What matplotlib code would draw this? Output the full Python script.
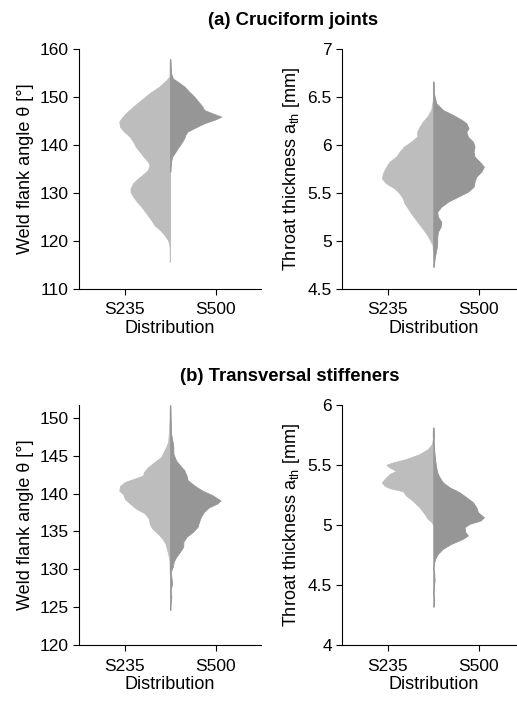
import matplotlib
matplotlib.use("Agg")
import matplotlib.pyplot as plt
import numpy as np

plt.rcParams['font.family'] = ['Liberation Sans', 'DejaVu Sans']
plt.rcParams['mathtext.fontset'] = 'custom'
plt.rcParams['mathtext.rm'] = 'Liberation Sans'

groups = ["S235", "S500"]

# (a) cruciform joints - weld flank angle [deg], half widths of the density
a_ang_s235_y = [157.9, 154.3, 153.6, 152.2, 150.8, 149.4, 148.0, 146.6, 145.6, 144.9, 143.8, 142.8,
                141.7, 140.7, 139.6, 138.6, 137.5, 136.5, 135.8, 134.8, 134.1, 133.0, 132.0, 130.9,
                130.2, 129.2, 128.1, 127.1, 125.7, 124.3, 123.2, 122.2, 121.2, 120.1, 119.1, 118.0, 115.6]
a_ang_s235_w = [0.004, 0.007, 0.036, 0.116, 0.225, 0.315, 0.406, 0.486, 0.533, 0.558, 0.551, 0.507,
                0.442, 0.406, 0.377, 0.333, 0.290, 0.243, 0.225, 0.243, 0.279, 0.351, 0.406, 0.435,
                0.435, 0.406, 0.362, 0.315, 0.261, 0.207, 0.170, 0.109, 0.062, 0.022, 0.007, 0.004, 0.004]
a_ang_s500_y = [157.9, 155.0, 153.9, 153.2, 152.2, 151.1, 150.1, 149.0, 148.0, 147.3, 146.6, 145.9,
                145.35, 144.5, 143.5, 142.8, 142.1, 141.4, 140.3, 139.3, 138.2, 137.5, 136.5, 135.5, 134.4]
a_ang_s500_w = [0.004, 0.011, 0.029, 0.083, 0.156, 0.210, 0.264, 0.312, 0.355, 0.373, 0.464, 0.562,
                0.500, 0.373, 0.264, 0.192, 0.167, 0.156, 0.120, 0.083, 0.047, 0.022, 0.011, 0.007, 0.004]

# (a) cruciform joints - throat thickness [mm]
a_th_s235_y = [6.661, 6.470, 6.365, 6.295, 6.243, 6.191, 6.138, 6.086, 6.034, 5.982, 5.929, 5.877,
               5.825, 5.772, 5.703, 5.650, 5.598, 5.546, 5.493, 5.441, 5.389, 5.337, 5.284, 5.214,
               5.145, 5.075, 5.005, 4.953, 4.901]
a_th_s235_w = [0.004, 0.004, 0.022, 0.066, 0.114, 0.150, 0.176, 0.176, 0.242, 0.322, 0.370, 0.407,
               0.480, 0.516, 0.553, 0.564, 0.516, 0.425, 0.370, 0.333, 0.315, 0.278, 0.242, 0.187,
               0.132, 0.077, 0.033, 0.007, 0.004]
a_th_s500_y = [6.661, 6.539, 6.435, 6.365, 6.313, 6.260, 6.226, 6.173, 6.138, 6.086, 6.034, 5.982,
               5.929, 5.877, 5.825, 5.772, 5.720, 5.668, 5.615, 5.563, 5.511, 5.459, 5.406, 5.354,
               5.302, 5.249, 5.197, 5.145, 5.092, 5.040, 4.970, 4.901, 4.831, 4.726]
a_th_s500_w = [0.004, 0.007, 0.033, 0.106, 0.216, 0.315, 0.363, 0.388, 0.363, 0.381, 0.436, 0.454,
               0.443, 0.454, 0.509, 0.557, 0.527, 0.473, 0.454, 0.443, 0.381, 0.271, 0.161, 0.088,
               0.044, 0.051, 0.088, 0.081, 0.051, 0.044, 0.044, 0.033, 0.018, 0.004]

# (b) transversal stiffeners - weld flank angle [deg]
b_ang_s235_y = [151.7, 149.7, 147.9, 146.8, 146.2, 145.5, 144.85, 144.2, 143.5, 142.9, 142.4, 142.0,
                141.55, 141.0, 140.4, 139.9, 139.3, 138.7, 138.0, 137.4, 136.7, 136.0, 135.4, 134.7,
                134.1, 133.4, 132.7, 132.1, 131.2, 129.4]
b_ang_s235_w = [0.004, 0.007, 0.014, 0.022, 0.043, 0.072, 0.098, 0.170, 0.243, 0.286, 0.297, 0.388,
                0.496, 0.551, 0.558, 0.514, 0.496, 0.442, 0.370, 0.279, 0.232, 0.225, 0.196, 0.134,
                0.087, 0.051, 0.036, 0.022, 0.007, 0.004]
b_ang_s500_y = [151.7, 149.7, 147.9, 146.8, 146.2, 145.3, 144.4, 143.75, 143.1, 142.4, 141.8, 141.1,
                140.4, 139.8, 139.1, 138.7, 138.2, 137.6, 136.9, 136.3, 135.6, 134.9, 134.3, 133.6,
                133.0, 132.3, 131.6, 131.0, 130.3, 129.65, 129.0, 128.1, 127.2, 126.35, 125.5, 124.6]
b_ang_s500_w = [0.004, 0.007, 0.011, 0.029, 0.036, 0.036, 0.065, 0.109, 0.156, 0.181, 0.192, 0.264,
                0.355, 0.464, 0.554, 0.518, 0.428, 0.373, 0.337, 0.319, 0.301, 0.246, 0.181, 0.145,
                0.145, 0.109, 0.065, 0.040, 0.029, 0.007, 0.014, 0.022, 0.007, 0.014, 0.007, 0.004]

# (b) transversal stiffeners - throat thickness [mm]
b_th_s235_y = [5.814, 5.758, 5.717, 5.675, 5.634, 5.592, 5.551, 5.523, 5.503, 5.481, 5.453, 5.426,
               5.384, 5.356, 5.329, 5.309, 5.282, 5.245, 5.204, 5.148, 5.093, 5.051, 5.024, 5.004]
b_th_s235_w = [0.004, 0.007, 0.004, 0.015, 0.059, 0.150, 0.297, 0.443, 0.516, 0.480, 0.407, 0.480,
               0.535, 0.564, 0.535, 0.480, 0.333, 0.297, 0.227, 0.150, 0.095, 0.059, 0.015, 0.004]
b_th_s500_y = [5.814, 5.758, 5.703, 5.648, 5.592, 5.537, 5.481, 5.440, 5.398, 5.356, 5.315, 5.273,
               5.232, 5.190, 5.148, 5.107, 5.065, 5.038, 5.010, 4.982, 4.940, 4.913, 4.885, 4.843,
               4.802, 4.760, 4.719, 4.677, 4.635, 4.594, 4.538, 4.483, 4.427, 4.372, 4.317]
b_th_s500_w = [0.004, 0.007, 0.004, 0.007, 0.015, 0.022, 0.033, 0.044, 0.070, 0.106, 0.179, 0.289,
               0.363, 0.436, 0.473, 0.491, 0.557, 0.520, 0.399, 0.344, 0.352, 0.381, 0.326, 0.198,
               0.106, 0.051, 0.022, 0.007, 0.004, 0.011, 0.015, 0.007, 0.004, 0.011, 0.004]

ang_label = "Weld flank angle θ [°]"
th_label = r"Throat thickness a$_\mathregular{th}$ [mm]"

c_light = "#bdbdbd"
c_dark = "#969696"

fig = plt.figure(figsize=(5.17, 7.02), dpi=100)

W = 0.352
H = 0.341
axes = {
    "a_ang": fig.add_axes([0.153, 0.589, W, H]),
    "a_th": fig.add_axes([0.662, 0.589, W, H]),
    "b_ang": fig.add_axes([0.153, 0.0816, W, H]),
    "b_th": fig.add_axes([0.662, 0.0816, W, H]),
}

panels = [
    ("a_ang", a_ang_s235_y, a_ang_s235_w, a_ang_s500_y, a_ang_s500_w, (110, 160), np.arange(110, 161, 10), ang_label),
    ("a_th", a_th_s235_y, a_th_s235_w, a_th_s500_y, a_th_s500_w, (4.5, 7), np.arange(4.5, 7.01, 0.5), th_label),
    ("b_ang", b_ang_s235_y, b_ang_s235_w, b_ang_s500_y, b_ang_s500_w, (120, 151.7), np.arange(120, 151, 5), ang_label),
    ("b_th", b_th_s235_y, b_th_s235_w, b_th_s500_y, b_th_s500_w, (4, 6), np.arange(4, 6.01, 0.5), th_label),
]

for key, y1, w1, y2, w2, ylim, yt, ylab in panels:
    ax = axes[key]
    mid = 1.5
    y1 = np.array(y1); w1 = np.array(w1)
    y2 = np.array(y2); w2 = np.array(w2)
    ax.fill_betweenx(y1, mid - w1, mid, color=c_light, lw=0.6, edgecolor=c_light)
    ax.fill_betweenx(y2, mid, mid + w2, color=c_dark, lw=0.6, edgecolor=c_dark)
    ax.set_xlim(0.5, 2.5)
    ax.set_ylim(*ylim)
    ax.set_xticks([1, 2])
    ax.set_xticklabels(groups)
    ax.set_yticks(yt)
    ax.set_yticklabels(["%g" % v for v in yt])
    ax.spines["top"].set_visible(False)
    ax.spines["right"].set_visible(False)
    ax.tick_params(direction="out", length=4, width=0.8, labelsize=12.5)
    ax.tick_params(axis="x", pad=6)
    ax.set_xlabel("Distribution", fontsize=13, labelpad=2)
    ax.set_ylabel(ylab, fontsize=13, labelpad=4)

fig.text(0.567, 0.9715, "(a) Cruciform joints", ha="center", va="center", fontsize=13.3, fontweight="bold")
fig.text(0.56, 0.4634, "(b) Transversal stiffeners", ha="center", va="center", fontsize=13.3, fontweight="bold")

fig.savefig("out.png", dpi=100)
